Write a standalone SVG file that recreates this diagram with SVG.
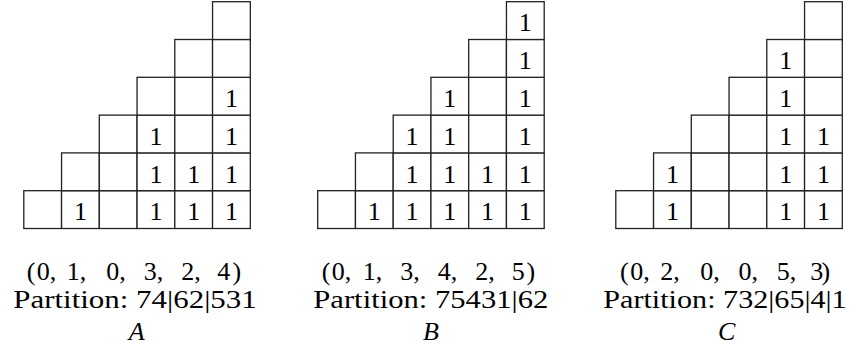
<svg xmlns="http://www.w3.org/2000/svg" xmlns:xlink="http://www.w3.org/1999/xlink" width="858" height="361" viewBox="0 0 858 361">
<style>
.cell{fill:#fff;stroke:#222;stroke-width:1.3}
.one{text-anchor:middle}
.nm{font-style:italic;text-anchor:middle}
</style>
<defs>
<rect id="cell" class="cell" width="37.75" height="37.8"/>
<g id="stair">
<use href="#cell" x="0" y="190.7"/>
<use href="#cell" x="37.75" y="190.7"/><use href="#cell" x="37.75" y="152.9"/>
<use href="#cell" x="75.5" y="190.7"/><use href="#cell" x="75.5" y="152.9"/><use href="#cell" x="75.5" y="115.1"/>
<use href="#cell" x="113.25" y="190.7"/><use href="#cell" x="113.25" y="152.9"/><use href="#cell" x="113.25" y="115.1"/><use href="#cell" x="113.25" y="77.3"/>
<use href="#cell" x="151" y="190.7"/><use href="#cell" x="151" y="152.9"/><use href="#cell" x="151" y="115.1"/><use href="#cell" x="151" y="77.3"/><use href="#cell" x="151" y="39.5"/>
<use href="#cell" x="188.75" y="190.7"/><use href="#cell" x="188.75" y="152.9"/><use href="#cell" x="188.75" y="115.1"/><use href="#cell" x="188.75" y="77.3"/><use href="#cell" x="188.75" y="39.5"/><use href="#cell" x="188.75" y="1.7"/>
</g>
</defs>
<g font-family="Liberation Serif, DejaVu Serif, serif" font-size="26" fill="#000">
<g id="panel-A">
<g transform="translate(23.8,0)">
<use href="#stair"/>
<text class="one" x="56.6" y="220.3">1</text>
<text class="one" x="132.1" y="220.3">1</text><text class="one" x="132.1" y="182.5">1</text><text class="one" x="132.1" y="144.7">1</text>
<text class="one" x="169.9" y="220.3">1</text><text class="one" x="169.9" y="182.5">1</text>
<text class="one" x="207.6" y="220.3">1</text><text class="one" x="207.6" y="182.5">1</text><text class="one" x="207.6" y="144.7">1</text><text class="one" x="207.6" y="106.9">1</text>
</g>
<text y="279.5"><tspan x="26.7">(</tspan><tspan x="36.8">0,</tspan><tspan x="66.7">1,</tspan><tspan x="106.2">0,</tspan><tspan x="143.7">3,</tspan><tspan x="181.2">2,</tspan><tspan x="217.2">4</tspan><tspan x="232.5">)</tspan></text>
<text x="13.3" y="308.3" textLength="243.4" lengthAdjust="spacingAndGlyphs">Partition: 74|62|531</text>
<text class="nm" x="136.7" y="340">A</text>
</g>
<g id="panel-B">
<g transform="translate(317.7,0)">
<use href="#stair"/>
<text class="one" x="56.6" y="220.3">1</text>
<text class="one" x="94.4" y="220.3">1</text><text class="one" x="94.4" y="182.5">1</text><text class="one" x="94.4" y="144.7">1</text>
<text class="one" x="132.1" y="220.3">1</text><text class="one" x="132.1" y="182.5">1</text><text class="one" x="132.1" y="144.7">1</text><text class="one" x="132.1" y="106.9">1</text>
<text class="one" x="169.9" y="220.3">1</text><text class="one" x="169.9" y="182.5">1</text>
<text class="one" x="207.6" y="220.3">1</text><text class="one" x="207.6" y="182.5">1</text><text class="one" x="207.6" y="144.7">1</text><text class="one" x="207.6" y="106.9">1</text><text class="one" x="207.6" y="69.1">1</text><text class="one" x="207.6" y="31.3">1</text>
</g>
<text y="279.5"><tspan x="321.7">(</tspan><tspan x="331.8">0,</tspan><tspan x="362.7">1,</tspan><tspan x="400.2">3,</tspan><tspan x="437.7">4,</tspan><tspan x="475.2">2,</tspan><tspan x="511.8">5</tspan><tspan x="526.5">)</tspan></text>
<text x="313.3" y="308.3" textLength="235" lengthAdjust="spacingAndGlyphs">Partition: 75431|62</text>
<text class="nm" x="431" y="340">B</text>
</g>
<g id="panel-C">
<g transform="translate(615.8,0)">
<use href="#stair"/>
<text class="one" x="56.6" y="220.3">1</text><text class="one" x="56.6" y="182.5">1</text>
<text class="one" x="169.9" y="220.3">1</text><text class="one" x="169.9" y="182.5">1</text><text class="one" x="169.9" y="144.7">1</text><text class="one" x="169.9" y="106.9">1</text><text class="one" x="169.9" y="69.1">1</text>
<text class="one" x="207.6" y="220.3">1</text><text class="one" x="207.6" y="182.5">1</text><text class="one" x="207.6" y="144.7">1</text>
</g>
<text y="279.5"><tspan x="620">(</tspan><tspan x="630.2">0,</tspan><tspan x="660.2">2,</tspan><tspan x="700.2">0,</tspan><tspan x="738.5">0,</tspan><tspan x="776.8">5,</tspan><tspan x="810.2">3</tspan><tspan x="821.5">)</tspan></text>
<text x="603.3" y="308.3" textLength="243.4" lengthAdjust="spacingAndGlyphs">Partition: 732|65|4|1</text>
<text class="nm" x="726.7" y="340">C</text>
</g>
</g>
</svg>
